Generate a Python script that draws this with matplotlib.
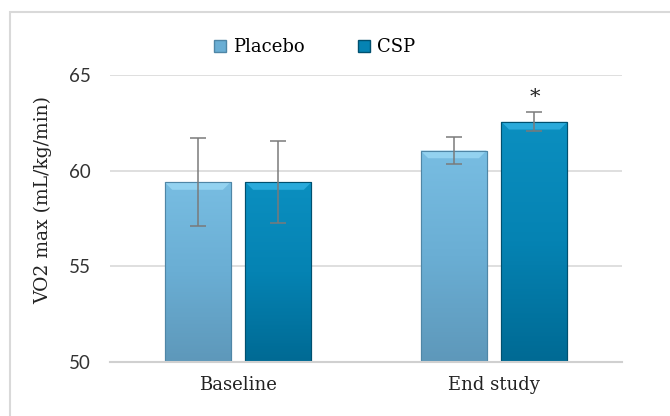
import numpy as np
import matplotlib
matplotlib.use("Agg")
import matplotlib.pyplot as plt
from matplotlib.patches import Rectangle
from matplotlib.lines import Line2D
from matplotlib.colors import LinearSegmentedColormap

groups = ["Baseline", "End study"]
series = ["Placebo", "CSP"]
placebo = [59.4, 61.05]
placebo_err = [2.3, 0.7]
csp = [59.4, 62.55]
csp_err = [2.15, 0.5]
yticks = [50, 55, 60, 65]

# gradient colours (top, middle, bottom) per series
grad = {
    "Placebo": ["#78bde2", "#6aaed4", "#5e98ba"],
    "CSP": ["#0b8fc0", "#0583b3", "#006a94"],
}
edge = {"Placebo": "#4f86a6", "CSP": "#00506f"}
top_hi = {"Placebo": "#93d2f0", "CSP": "#2aaadb"}

serif = "DejaVu Serif"
sans = "Lato"

fig = plt.figure(figsize=(6.7, 4.16), dpi=100)
# light outer frame of the chart area
fig.patches.append(Rectangle((10 / 670, -0.1), 1.2, 1 - 12 / 416 + 0.1,
                             transform=fig.transFigure, fill=False,
                             edgecolor="#d9d9d9", linewidth=1.5))

ax = fig.add_axes([110 / 670, 54 / 416, 512 / 670, 287 / 416])

x = np.arange(len(groups))
w = 0.258
off = 0.158

for vals, errs, name, sign in [(placebo, placebo_err, "Placebo", -1),
                               (csp, csp_err, "CSP", 1)]:
    bars = ax.bar(x + sign * off, np.array(vals) - 50, w, bottom=50,
                  color=grad[name][1], edgecolor=edge[name], linewidth=0.8,
                  zorder=2)
    cmap = LinearSegmentedColormap.from_list(name, grad[name][::-1])
    for b in bars:
        x0, y0 = b.get_x(), b.get_y()
        x1, y1 = x0 + b.get_width(), y0 + b.get_height()
        img = ax.imshow(np.linspace(0, 1, 100).reshape(-1, 1), cmap=cmap,
                        origin="lower", aspect="auto",
                        extent=[x0, x1, y0, y1], zorder=2.1)
        img.set_clip_path(b)
        # bevel highlight at the top of the bar
        ax.fill([x0, x1, x1 - 0.03, x0 + 0.03], [y1, y1, y1 - 0.4, y1 - 0.4],
                color=top_hi[name], lw=0, zorder=2.2)
        ax.bar(b.get_x() + b.get_width() / 2, b.get_height(), b.get_width(),
               bottom=y0, fill=False, edgecolor=edge[name], linewidth=0.8,
               zorder=2.3)
    ax.errorbar(x + sign * off, vals, yerr=errs, fmt="none", ecolor="#7a7a7a",
                elinewidth=1.1, capsize=6, capthick=1.1, zorder=3)

# significance marker
ax.text(x[1] + off, csp[1] + csp_err[1] + 0.3, "*", ha="center", va="bottom",
        fontsize=15, family=serif, color="#222222")

ax.set_xlim(-0.5, 1.5)
ax.set_ylim(50, 65)
ax.set_yticks(yticks)
ax.set_yticklabels([str(t) for t in yticks], family=sans, fontsize=13.5,
                   color="#333333")
ax.set_xticks(x)
ax.set_xticklabels(groups, family=serif, fontsize=13, color="#222222")
ax.tick_params(axis="y", length=0, pad=14)
ax.tick_params(axis="x", length=0, pad=10)
ax.yaxis.grid(True, color="#d9d9d9", linewidth=1.2, zorder=0)
ax.set_axisbelow(True)
for s in ["top", "right", "left"]:
    ax.spines[s].set_visible(False)
ax.spines["bottom"].set_color("#d0d0d0")
ax.spines["bottom"].set_linewidth(1.5)
ax.set_ylabel("VO2 max (mL/kg/min)", family=serif, fontsize=13.5,
              color="#222222")
ax.yaxis.set_label_coords(-0.113, 0.565)

handles = [Line2D([], [], marker="s", linestyle="none", markersize=9,
                  markerfacecolor=grad[n][1], markeredgecolor=edge[n])
           for n in series]
fig.legend(handles, series, loc="center", bbox_to_anchor=(313 / 670, 1 - 47 / 416),
           ncol=2, frameon=False, prop={"family": serif, "size": 13},
           handletextpad=0.2, columnspacing=2.8, handlelength=1.0)

fig.savefig("out.png", dpi=100)
